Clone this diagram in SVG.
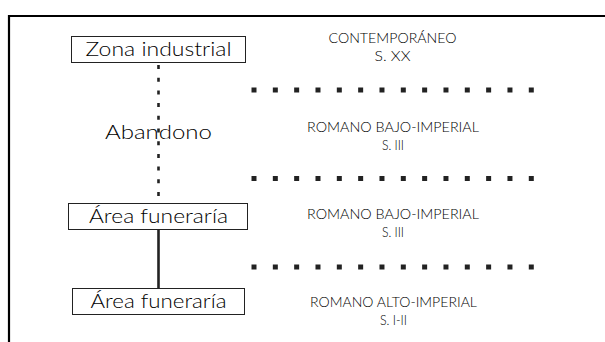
<svg xmlns="http://www.w3.org/2000/svg" width="605" height="342" viewBox="0 0 605 342">
<style>
.frame{fill:none;stroke:#000;stroke-width:2.2}
.box{fill:#fff;stroke:#222;stroke-width:1}
.lbl{font-family:Lato,"Liberation Sans",Arial,sans-serif;font-weight:300;font-size:19px;fill:#000;text-anchor:middle}
.per{font-family:Lato,"Liberation Sans",Arial,sans-serif;font-weight:300;font-size:14px;fill:#000;text-anchor:middle}
.dots{stroke:#222;stroke-width:5;stroke-dasharray:5 16.33}
.vdash{stroke:#222;stroke-width:2.6;stroke-dasharray:4 8.7}
.vsolid{stroke:#222;stroke-width:2.6}
</style>
<rect width="605" height="342" fill="#fff"/>
<path class="frame" d="M9,342 V16 H605"/>
<g id="connectors">
<line class="vdash" x1="158.5" y1="65" x2="158.5" y2="203"/>
<line class="vsolid" x1="158.5" y1="229" x2="158.5" y2="288"/>
</g>
<g id="separators">
<line class="dots" x1="251.5" y1="90" x2="534" y2="90"/>
<line class="dots" x1="251.5" y1="178.5" x2="534" y2="178.5"/>
<line class="dots" x1="251.5" y1="267" x2="534" y2="267"/>
</g>
<g id="zona-industrial">
<rect class="box" x="71.5" y="36.5" width="174" height="26"/>
<text class="lbl" x="158.5" y="56" textLength="146" lengthAdjust="spacingAndGlyphs">Zona industrial</text>
</g>
<g id="abandono">
<text class="lbl" x="158.5" y="139" textLength="107" lengthAdjust="spacingAndGlyphs">Abandono</text>
</g>
<g id="area-funeraria-1">
<rect class="box" x="68.5" y="203.5" width="179" height="26"/>
<text class="lbl" x="158.5" y="223" textLength="139" lengthAdjust="spacingAndGlyphs">Área funeraría</text>
</g>
<g id="area-funeraria-2">
<rect class="box" x="72.5" y="288.5" width="172" height="26"/>
<text class="lbl" x="158.5" y="308" textLength="136" lengthAdjust="spacingAndGlyphs">Área funeraría</text>
</g>
<g id="periods">
<text class="per" x="392.5" y="42.5" textLength="128" lengthAdjust="spacingAndGlyphs">CONTEMPORÁNEO</text>
<text class="per" x="392.5" y="60.5" textLength="36" lengthAdjust="spacingAndGlyphs">S. XX</text>
<text class="per" x="393" y="132" textLength="172" lengthAdjust="spacingAndGlyphs">ROMANO BAJO-IMPERIAL</text>
<text class="per" x="393" y="150" textLength="22" lengthAdjust="spacingAndGlyphs">S. III</text>
<text class="per" x="393" y="219" textLength="172" lengthAdjust="spacingAndGlyphs">ROMANO BAJO-IMPERIAL</text>
<text class="per" x="393" y="237" textLength="22" lengthAdjust="spacingAndGlyphs">S. III</text>
<text class="per" x="393.5" y="306.5" textLength="167" lengthAdjust="spacingAndGlyphs">ROMANO ALTO-IMPERIAL</text>
<text class="per" x="393.5" y="324.5" textLength="27" lengthAdjust="spacingAndGlyphs">S. I-II</text>
</g>
</svg>
